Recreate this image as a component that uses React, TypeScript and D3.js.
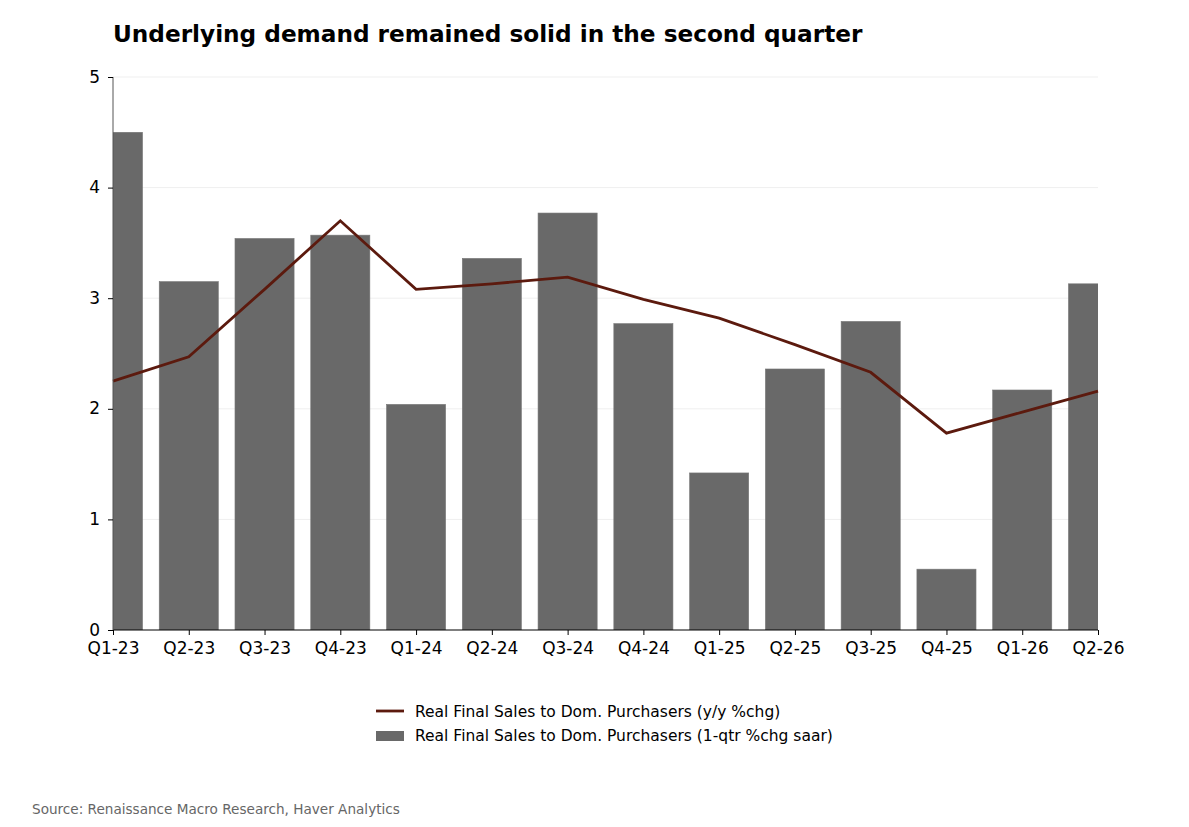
import React, { useRef, useEffect } from "react";
import * as d3 from "d3";

const quarters = [
  "Q1-23", "Q2-23", "Q3-23", "Q4-23", "Q1-24", "Q2-24", "Q3-24",
  "Q4-24", "Q1-25", "Q2-25", "Q3-25", "Q4-25", "Q1-26", "Q2-26",
];
// 1-qtr %chg saar
const qtrValues = [4.5, 3.15, 3.54, 3.57, 2.04, 3.36, 3.77, 2.77, 1.42, 2.36, 2.79, 0.55, 2.17, 3.13];
// y/y %chg
const yoyValues = [2.25, 2.47, 3.08, 3.7, 3.08, 3.13, 3.19, 2.99, 2.82, 2.58, 2.33, 1.78, 1.97, 2.16];
const yTicks = [0, 1, 2, 3, 4, 5];

const width = 1189;
const height = 827;
const margin = { left: 113, right: 91, top: 77, bottom: 197 };
const font = "DejaVu Sans, sans-serif";
const barColor = "#696969";
const lineColor = "#5c1a0e";

const App: React.FC = () => {
  const ref = useRef<SVGSVGElement>(null);

  useEffect(() => {
    if (!ref.current) return;
    const svg = d3.select(ref.current);
    svg.selectAll("*").remove();

    const x = d3
      .scalePoint<string>()
      .domain(quarters)
      .range([margin.left, width - margin.right]);
    const y = d3
      .scaleLinear()
      .domain([0, 5])
      .range([height - margin.bottom, margin.top]);
    const barW = x.step() * 0.78;

    svg
      .append("defs")
      .append("clipPath")
      .attr("id", "plot-clip")
      .append("rect")
      .attr("x", margin.left)
      .attr("y", margin.top)
      .attr("width", width - margin.left - margin.right)
      .attr("height", height - margin.top - margin.bottom);

    // gridlines
    svg
      .append("g")
      .selectAll("line")
      .data(yTicks.slice(1))
      .enter()
      .append("line")
      .attr("x1", margin.left)
      .attr("x2", width - margin.right)
      .attr("y1", (d) => y(d))
      .attr("y2", (d) => y(d))
      .attr("stroke", "#efefef")
      .attr("stroke-width", 1);

    // bars
    svg
      .append("g")
      .attr("clip-path", "url(#plot-clip)")
      .selectAll("rect")
      .data(qtrValues)
      .enter()
      .append("rect")
      .attr("x", (d, i) => (x(quarters[i]) as number) - barW / 2)
      .attr("y", (d) => y(d))
      .attr("width", barW)
      .attr("height", (d) => y(0) - y(d))
      .attr("fill", barColor)
      .attr("stroke", "#777")
      .attr("stroke-width", 0.6);

    // line
    const line = d3
      .line<number>()
      .x((d, i) => x(quarters[i]) as number)
      .y((d) => y(d));
    svg
      .append("path")
      .datum(yoyValues)
      .attr("d", line)
      .attr("fill", "none")
      .attr("stroke", lineColor)
      .attr("stroke-width", 2.8)
      .attr("stroke-linejoin", "miter");

    // axes
    const xAxis = d3.axisBottom(x).tickSize(5).tickPadding(7);
    const gx = svg
      .append("g")
      .attr("transform", "translate(0," + y(0) + ")")
      .call(xAxis);
    gx.select(".domain").attr("stroke", "#000").attr("stroke-width", 1.2).attr("d", `M${margin.left},0H${width - margin.right}`);
    gx.selectAll("text").attr("font-family", font).attr("font-size", 17).attr("fill", "#000");

    const yAxis = d3.axisLeft(y).tickValues(yTicks).tickFormat(d3.format("d")).tickSize(5).tickPadding(8);
    const gy = svg
      .append("g")
      .attr("transform", "translate(" + margin.left + ",0)")
      .call(yAxis);
    gy.select(".domain").attr("stroke", "#555").attr("stroke-width", 1).attr("d", `M0,${y(0)}V${y(5)}`);
    gy.selectAll("text").attr("font-family", font).attr("font-size", 17).attr("fill", "#000").attr("dy", "0.3em");

    // title
    svg
      .append("text")
      .attr("x", 113)
      .attr("y", 42)
      .attr("font-family", font)
      .attr("font-weight", "bold")
      .attr("font-size", 23.2)
      .text("Underlying demand remained solid in the second quarter");

    // legend
    const lg = svg.append("g").attr("font-family", font).attr("font-size", 15.5);
    lg.append("line")
      .attr("x1", 376).attr("x2", 404).attr("y1", 711).attr("y2", 711)
      .attr("stroke", lineColor).attr("stroke-width", 2.8);
    lg.append("text").attr("x", 415).attr("y", 717)
      .text("Real Final Sales to Dom. Purchasers (y/y %chg)");
    lg.append("rect").attr("x", 376).attr("y", 731).attr("width", 28).attr("height", 10)
      .attr("fill", barColor);
    lg.append("text").attr("x", 415).attr("y", 741)
      .text("Real Final Sales to Dom. Purchasers (1-qtr %chg saar)");

    // source
    svg
      .append("text")
      .attr("x", 32)
      .attr("y", 814)
      .attr("font-family", font)
      .attr("font-size", 13.6)
      .attr("fill", "#666")
      .text("Source: Renaissance Macro Research, Haver Analytics");
  }, []);

  return (
    <div style={{ position: "absolute", left: 0, top: 0 }}>
      <svg ref={ref} width={width} height={height} style={{ display: "block", background: "#fff" }} />
    </div>
  );
};

export default App;
